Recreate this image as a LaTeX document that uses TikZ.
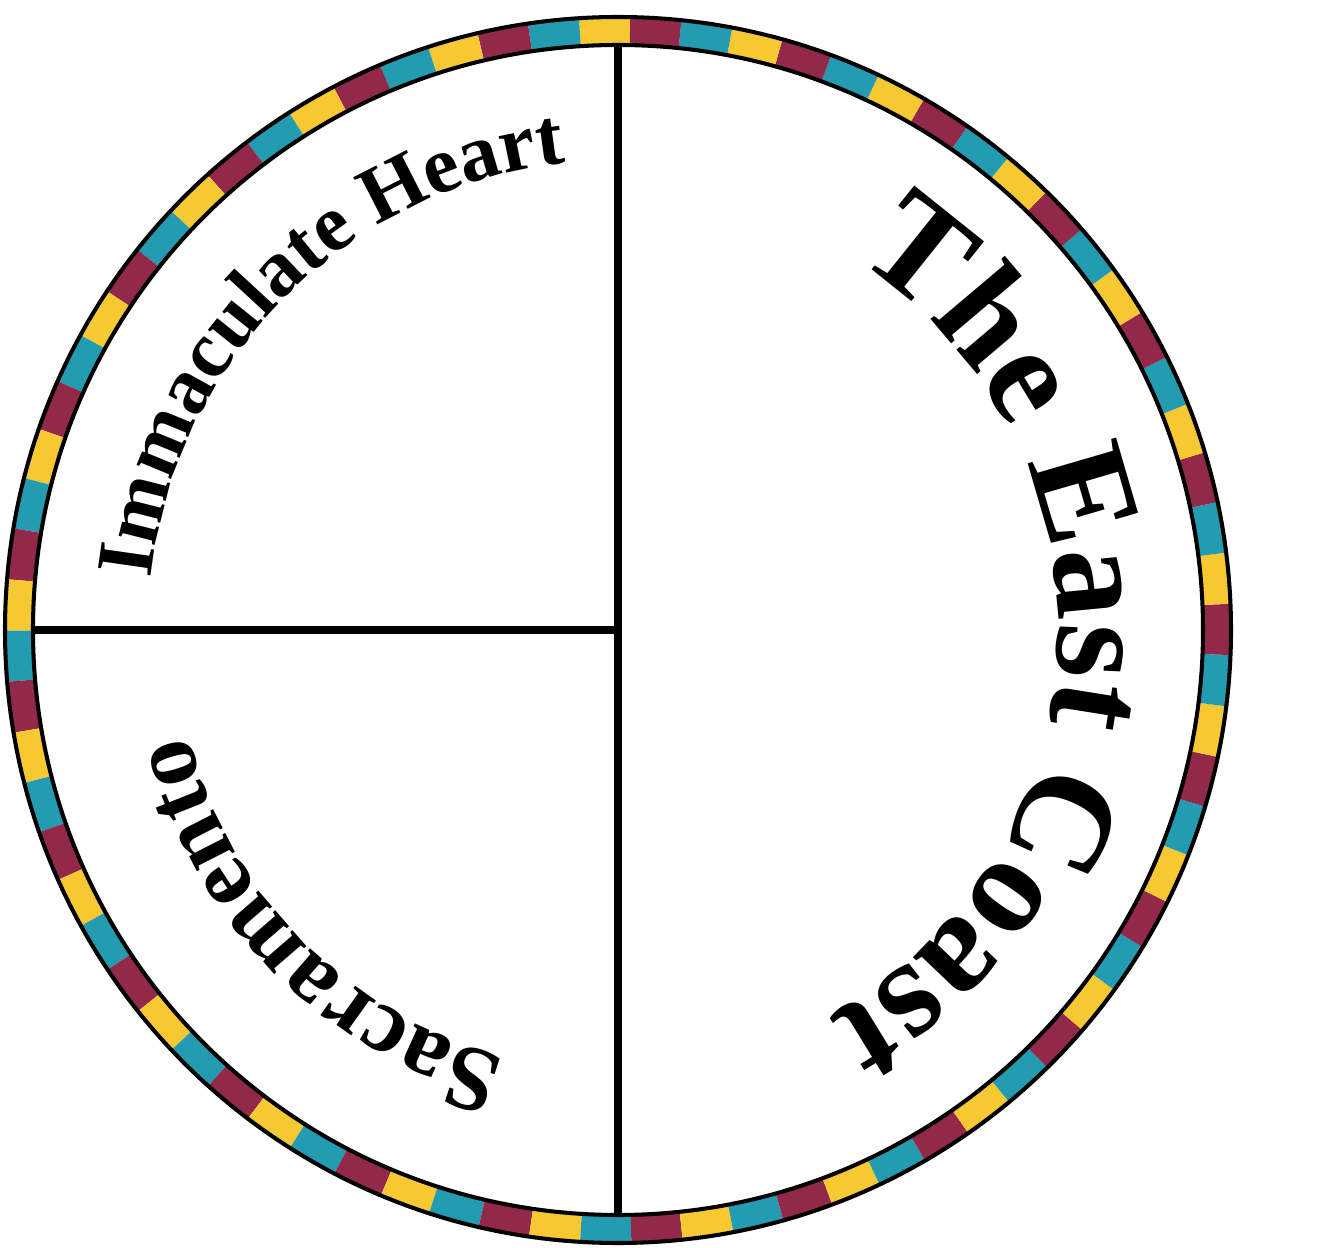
\documentclass[tikz,border=0pt]{standalone}
\usepackage{fontspec}
\setmainfont{Liberation Serif}
\usetikzlibrary{decorations.text}

\definecolor{wine}{RGB}{147,41,74}
\definecolor{sea}{RGB}{35,155,176}
\definecolor{gold}{RGB}{246,200,50}

\tikzset{
  rim/.style={line width=1.15pt},
  divider/.style={line width=2pt},
  rimtext/.style={decorate, decoration={text along path, text align=center, text={#1}}}
}

\begin{document}
\begin{tikzpicture}
  \useasboundingbox (-6.18,-6.18) rectangle (7.02,6.30);
  % coloured tiles round the rim
  \foreach \k in {0,...,74}{
    \pgfmathsetmacro{\ang}{88.85+4.8*\k}
    \pgfmathtruncatemacro{\c}{mod(\k,3)}
    \ifcase\c \def\tile{gold}\or \def\tile{sea}\else \def\tile{wine}\fi
    \fill[fill=\tile] (\ang:5.85) arc[start angle=\ang, end angle=\ang+4.8, radius=5.85]
      -- (\ang+4.8:6.13) arc[start angle=\ang+4.8, end angle=\ang, radius=6.13] -- cycle;
  }
  \draw[rim] (0,0) circle (6.13) (0,0) circle (5.85);
  % dividers
  \coordinate (top) at (90:5.85);
  \coordinate (bottom) at (-90:5.85);
  \coordinate (left) at (180:5.85);
  \coordinate (mid) at (0,0);
  \draw[divider] (top) -- (bottom);
  \draw[divider] (left) -- (mid);
  % names, read clockwise
  \path[rimtext={|\fontsize{23}{23}\selectfont\bfseries|Immaculate Heart}]
    (225:4.7) arc[start angle=225, end angle=45, radius=4.7];
  \path[rimtext={|\fontsize{40}{40}\selectfont\bfseries|The East Coast}]
    (88:4.4) arc[start angle=88, end angle=-92, radius=4.4];
  \path[rimtext={|\fontsize{26.5}{26.5}\selectfont\bfseries|Sacramento}]
    (314.5:4.42) arc[start angle=314.5, end angle=134.5, radius=4.42];
\end{tikzpicture}
\end{document}
